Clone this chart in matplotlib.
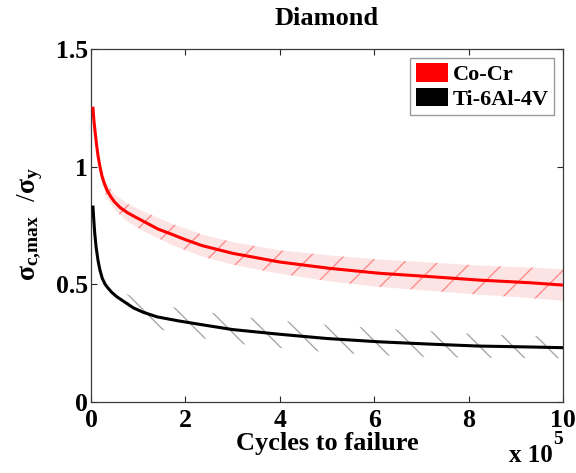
import matplotlib
matplotlib.use("Agg")
import matplotlib.pyplot as plt
from matplotlib.patches import Patch

plt.rcParams['font.family'] = ['Liberation Serif', 'DejaVu Serif']
plt.rcParams['font.weight'] = 'bold'
plt.rcParams['mathtext.fontset'] = 'custom'
plt.rcParams['mathtext.rm'] = 'Liberation Serif:bold'
plt.rcParams['mathtext.it'] = 'Liberation Serif:bold'
plt.rcParams['mathtext.bf'] = 'Liberation Serif:bold'
plt.rcParams['hatch.linewidth'] = 1.0

# ---- data (cycles in units of 1e5) ----
series_names = ['Co-Cr', 'Ti-6Al-4V']

co_x = [0.04, 0.06, 0.09, 0.12, 0.15, 0.19, 0.23, 0.28, 0.34, 0.42, 0.5,
        0.62, 0.77, 0.95, 1.14, 1.42, 1.71, 2.0, 2.35, 3.0, 4.0, 5.06, 6.12,
        7.18, 8.24, 9.3, 10.0]
co_y = [1.255, 1.20, 1.142, 1.09, 1.045, 1.0, 0.962, 0.93, 0.90, 0.872, 0.85,
        0.826, 0.805, 0.785, 0.765, 0.735, 0.713, 0.69, 0.665, 0.632, 0.595,
        0.568, 0.547, 0.533, 0.518, 0.507, 0.497]

co_band_x = [0.15, 0.22, 0.33, 0.5, 0.77, 1.14, 1.71, 2.35, 3.0, 4.0, 5.06,
             6.12, 7.18, 8.24, 9.3, 10.0]
co_upper = [1.063, 0.99, 0.93, 0.883, 0.843, 0.807, 0.758, 0.712, 0.68, 0.645,
            0.623, 0.605, 0.593, 0.58, 0.572, 0.564]
co_lower = [1.023, 0.94, 0.87, 0.817, 0.767, 0.723, 0.668, 0.618, 0.584, 0.545,
            0.513, 0.489, 0.473, 0.456, 0.442, 0.43]

ti_x = [0.04, 0.06, 0.08, 0.11, 0.15, 0.19, 0.24, 0.3, 0.37, 0.44, 0.55, 0.75,
        0.9, 1.1, 1.4, 1.85, 2.4, 3.0, 4.0, 5.0, 6.1, 7.2, 8.2, 9.3, 10.0]
ti_y = [0.835, 0.77, 0.715, 0.655, 0.60, 0.56, 0.525, 0.50, 0.482, 0.466,
        0.447, 0.42, 0.40, 0.382, 0.362, 0.345, 0.327, 0.308, 0.288, 0.27,
        0.256, 0.246, 0.238, 0.234, 0.231]

ti_band_x = [0.75, 1.1, 1.4, 1.85, 2.4, 3.0, 4.0, 5.0, 6.1, 7.2, 8.2, 9.3, 10.0]
ti_upper = [0.46, 0.427, 0.412, 0.40, 0.384, 0.366, 0.346, 0.328, 0.313,
            0.301, 0.288, 0.281, 0.276]
ti_lower = [0.38, 0.337, 0.312, 0.29, 0.27, 0.25, 0.23, 0.212, 0.199, 0.191,
            0.188, 0.187, 0.186]

x_ticks = [0, 2, 4, 6, 8, 10]
y_ticks = [0, 0.5, 1, 1.5]
y_tick_labels = ['0', '0.5', '1', '1.5']

# ---- figure ----
fig = plt.figure(figsize=(5.76, 4.73), dpi=100)
ax = fig.add_axes([0.158, 0.150, 0.8194, 0.7463])

ax.fill_between(co_band_x, co_lower, co_upper, facecolor='#fde4e4',
                edgecolor='#ff8c8c', hatch='/', linewidth=0, zorder=1)
ax.fill_between(ti_band_x, ti_lower, ti_upper, facecolor='none',
                edgecolor='#a8a8a8', hatch='\\', linewidth=0, zorder=1)

ax.plot(co_x, co_y, color='#ff0000', lw=2.2, zorder=3, solid_capstyle='butt',
        solid_joinstyle='round')
ax.plot(ti_x, ti_y, color='#000000', lw=2.2, zorder=3, solid_capstyle='butt',
        solid_joinstyle='round')

ax.set_xlim(0, 10)
ax.set_ylim(0, 1.5)
ax.set_xticks(x_ticks)
ax.set_xticklabels([str(v) for v in x_ticks])
ax.set_yticks(y_ticks)
ax.set_yticklabels(y_tick_labels)
ax.tick_params(direction='in', length=4, width=0.8, top=True, right=True,
               labelsize=18.5, colors='#262626', labelcolor='black')
ax.tick_params(axis='x', pad=5)
ax.tick_params(axis='y', pad=2)
for lab in ax.get_xticklabels() + ax.get_yticklabels():
    lab.set_fontweight('bold')
for sp in ax.spines.values():
    sp.set_color('#3a3a3a')
    sp.set_linewidth(0.9)

ax.set_title('Diamond', fontsize=19, fontweight='bold', pad=17)
ax.set_xlabel('Cycles to failure', fontsize=19, fontweight='bold')
ax.xaxis.set_label_coords(0.5, -0.085)
ax.set_ylabel(r'$\sigma_{c{,}max}\ $ /$\sigma_y$', fontsize=20)
ax.yaxis.set_label_coords(-0.097, 0.505)

ax.text(0.979, -0.170, 'x 10', transform=ax.transAxes, ha='right',
        va='baseline', fontsize=18, fontweight='bold')
ax.text(0.979, -0.118, '5', transform=ax.transAxes, ha='left',
        va='baseline', fontsize=14, fontweight='bold')

handles = [Patch(facecolor='#ff0000', edgecolor='none'),
           Patch(facecolor='#000000', edgecolor='none')]
leg = ax.legend(handles, series_names, loc='upper right',
                prop={'weight': 'bold', 'size': 16},
                frameon=True, fancybox=False, framealpha=1,
                edgecolor='#999999', borderaxespad=0.4, borderpad=0.25,
                handlelength=1.45, handleheight=0.9, handletextpad=0.2,
                labelspacing=0.12)
leg.get_frame().set_linewidth(1.0)

fig.savefig('out.png', dpi=100)
